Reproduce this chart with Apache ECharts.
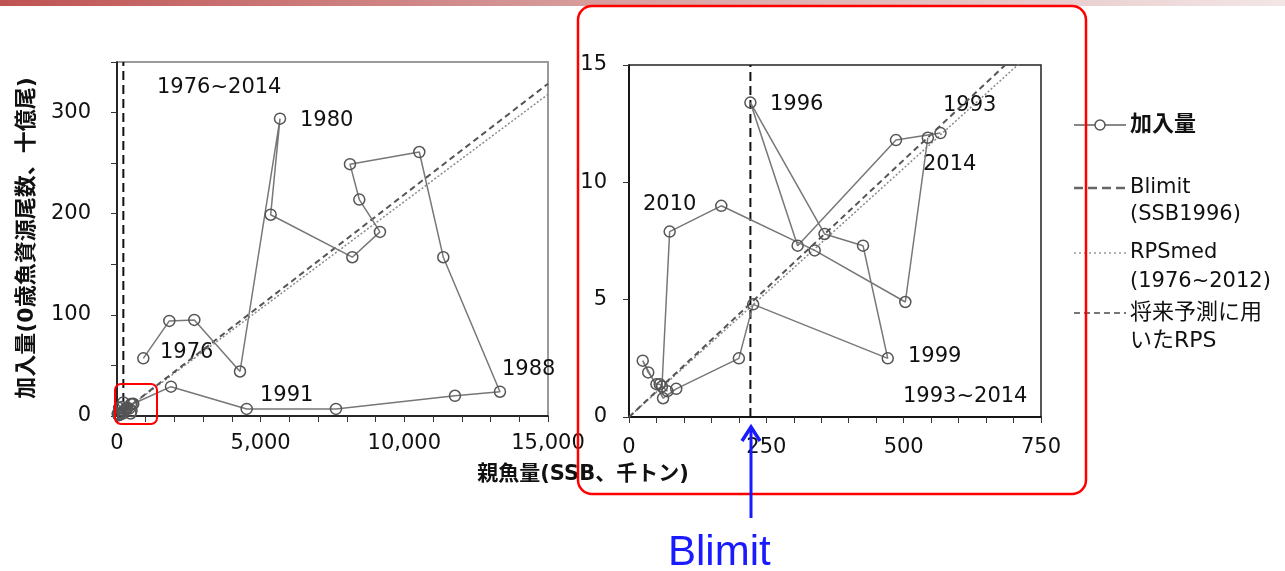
<!DOCTYPE html>
<html>
<head>
<meta charset="utf-8">
<script src="https://cdn.jsdelivr.net/npm/echarts@6/dist/echarts.min.js"></script>
<style>
html,body{margin:0;padding:0;background:#fff}
#main{width:1285px;height:571px}
</style>
</head>
<body>
<div id="main"></div>
<script>
// 年ごとの親魚量(SSB, 千トン)と加入量(十億尾)
const years = [1976,1977,1978,1979,1980,1981,1982,1983,1984,1985,1986,1987,1988,1989,1990,1991,1992,
  1993,1994,1995,1996,1997,1998,1999,2000,2001,2002,2003,2004,2005,2006,2007,2008,2009,2010,2011,2012,2013,2014]
const ssb = [916,1821,2691,4281,5673,5348,8190,9152,8433,8108,10521,11356,13328,11762,7621,4513,1879,
  567,486,307,221,356,426,471,226,200,86,62,25,35,50,56,70,60,74,168,338,503,544]
const recruits = [57,94,95,44,294,199,157,182,214,249,261,157,24,20,7,7,29,
  12.1,11.8,7.3,13.4,7.8,7.3,2.5,4.8,2.5,1.2,0.8,2.4,1.9,1.4,1.4,1.1,1.3,7.9,9.0,7.1,4.9,11.9]

const blimit = 221          // SSB1996
const rpsMed = 0.0212       // RPSmed(1976~2012)
const rpsFuture = 0.0219    // 将来予測に用いたRPS

// 軸の範囲と目盛り
const leftXMax = 15000, leftYMax = 350
const rightXMax = 750, rightYMax = 15
const leftXLabels = [0,5000,10000,15000]
const leftYLabels = [0,100,200,300]
const rightXLabels = [0,250,500,750]
const rightYLabels = [0,5,10,15]

const zoomStart = years.indexOf(1993)

const LAT = '"DejaVu Sans", "Noto Sans CJK JP", sans-serif'

const allPts = ssb.map((s, i) => [s, recruits[i]])
const zoomPts = allPts.slice(zoomStart)

const fmtComma = v => String(v).replace(/\B(?=(\d{3})+(?!\d))/g, ',')

const makeX = (idx, max, step, labels, margin, fmt) => ({
  type: 'value', gridIndex: idx, min: 0, max: max, interval: step,
  axisLine: { show: true, onZero: false, lineStyle: { color: '#000', width: 1.5 } },
  axisTick: { show: true, length: 6, lineStyle: { color: '#333' } },
  splitLine: { show: false },
  axisLabel: {
    margin: margin, color: '#111', fontSize: 21, fontFamily: LAT,
    showMinLabel: true, showMaxLabel: true,
    formatter: v => labels.indexOf(v) >= 0 ? fmt(v) : ''
  }
})
const makeY = (idx, max, step, labels, margin) => ({
  type: 'value', gridIndex: idx, min: 0, max: max, interval: step,
  axisLine: { show: true, onZero: false, lineStyle: { color: '#000', width: 1.5 } },
  axisTick: { show: true, length: 6, lineStyle: { color: '#333' } },
  splitLine: { show: false },
  axisLabel: {
    margin: margin, color: '#111', fontSize: 21, fontFamily: LAT,
    formatter: v => labels.indexOf(v) >= 0 ? String(v) : ''
  }
})

const refLines = (idx, xMax, yMax) => [
  {
    type: 'line', xAxisIndex: idx, yAxisIndex: idx, symbol: 'none', silent: true,
    data: [[0, 0], [xMax, xMax * rpsMed]],
    lineStyle: { color: '#8a8a8a', width: 1.5, type: [2, 2] }, z: 2
  },
  {
    type: 'line', xAxisIndex: idx, yAxisIndex: idx, symbol: 'none', silent: true,
    data: [[0, 0], [xMax, xMax * rpsFuture]],
    lineStyle: { color: '#555', width: 2, type: [6, 4] }, z: 2
  },
  {
    type: 'line', xAxisIndex: idx, yAxisIndex: idx, symbol: 'none', silent: true,
    data: [[blimit, 0], [blimit, yMax]],
    lineStyle: { color: '#111', width: 2, type: [9, 5] }, z: 3
  }
]

const recSeries = (idx, pts) => ({
  type: 'line', xAxisIndex: idx, yAxisIndex: idx, data: pts,
  symbol: 'circle', symbolSize: 11,
  itemStyle: { color: 'rgba(255,255,255,0)', borderColor: '#555', borderWidth: 1.5 },
  lineStyle: { color: '#777', width: 1.5 }, z: 4
})

// 注記テキスト
const notes = [
  ['1976~2014', 157, 88], ['1980', 300, 121], ['1976', 160, 353], ['1991', 260, 396], ['1988', 502, 370],
  ['1996', 770, 105], ['1993', 943, 106], ['2014', 923, 165], ['2010', 643, 205], ['1999', 908, 357],
  ['1993~2014', 903, 397]
]
const txt = (text, x, y, size, extra) => Object.assign({
  type: 'text', x: x, y: y, silent: true,
  style: Object.assign({ text: text, fill: '#111', fontSize: size, fontFamily: LAT, align: 'left', verticalAlign: 'middle' }, extra || {})
})

const graphics = []
// 上端の帯
graphics.push({
  type: 'rect', shape: { x: 0, y: 0, width: 1285, height: 6 }, silent: true,
  style: { fill: new echarts.graphic.LinearGradient(0, 0, 1, 0, [
    { offset: 0, color: '#bf5353' }, { offset: 0.5, color: '#d9a3a3' }, { offset: 1, color: '#f3e6e6' }]) }
})
notes.forEach(n => graphics.push(txt(n[0], n[1], n[2], 21)))

// 軸タイトル
graphics.push(txt('親魚量(SSB、千トン)', 583, 475, 21, { align: 'center', fontWeight: 'bold' }))
graphics.push(Object.assign(txt('加入量(0歳魚資源尾数、十億尾)', 0, 0, 22, { align: 'center', fontWeight: 'bold' }),
  { x: 27, y: 238, rotation: Math.PI / 2 }))

// 凡例
const legendLine = (y, color, width, dash) => ({
  type: 'line', silent: true, shape: { x1: 1074, y1: y, x2: 1126, y2: y },
  style: { stroke: color, lineWidth: width, lineDash: dash }
})
graphics.push(legendLine(125, '#888', 2, null))
graphics.push({ type: 'circle', silent: true, shape: { cx: 1100, cy: 125, r: 5 },
  style: { fill: '#fff', stroke: '#555', lineWidth: 1.5 } })
graphics.push(txt('加入量', 1130, 125, 22, { fontWeight: 'bold' }))
graphics.push(legendLine(188, '#666', 2.5, [9, 5]))
graphics.push(txt('Blimit', 1130, 188, 21))
graphics.push(txt('(SSB1996)', 1130, 215, 21))
graphics.push(legendLine(253, '#999', 1.5, [2, 3]))
graphics.push(txt('RPSmed', 1130, 253, 21))
graphics.push(txt('(1976~2012)', 1130, 282, 21))
graphics.push(legendLine(313, '#777', 2, [6, 4]))
graphics.push(txt('将来予測に用', 1130, 313, 22))
graphics.push(txt('いたRPS', 1130, 341, 22))

// 赤枠
graphics.push({ type: 'rect', silent: true, shape: { x: 578, y: 6, width: 508, height: 488, r: 14 },
  style: { fill: 'none', stroke: '#ff0000', lineWidth: 2.5 }, z: 100 })
graphics.push({ type: 'rect', silent: true, shape: { x: 115, y: 384, width: 42, height: 40, r: 6 },
  style: { fill: 'none', stroke: '#ff0000', lineWidth: 2 }, z: 100 })

// Blimit 矢印
graphics.push({ type: 'polyline', silent: true, shape: { points: [[751, 518], [751, 428]] },
  style: { stroke: '#1a1aff', lineWidth: 3, fill: 'none' }, z: 100 })
graphics.push({ type: 'polyline', silent: true, shape: { points: [[742, 441], [751, 427], [760, 441]] },
  style: { stroke: '#1a1aff', lineWidth: 3.5, fill: 'none' }, z: 100 })
graphics.push(txt('Blimit', 668, 553, 42, { fill: '#1a1aff', fontFamily: '"Liberation Sans", Arial, sans-serif' }))

const chart = echarts.init(document.getElementById('main'))
chart.setOption({
  animation: false,
  backgroundColor: '#fff',
  grid: [
    { left: 117, top: 62, width: 431, height: 354, show: true, borderColor: '#9a9a9a', borderWidth: 2, backgroundColor: 'transparent' },
    { left: 629, top: 65, width: 412, height: 352, show: true, borderColor: '#222', borderWidth: 1.5, backgroundColor: 'transparent' }
  ],
  xAxis: [
    makeX(0, leftXMax, 1000, leftXLabels, 17, fmtComma),
    makeX(1, rightXMax, 50, rightXLabels, 20, v => String(v))
  ],
  yAxis: [
    makeY(0, leftYMax, 50, leftYLabels, 26),
    makeY(1, rightYMax, 5, rightYLabels, 22)
  ],
  series: [
    ...refLines(0, leftXMax, leftYMax),
    recSeries(0, allPts),
    ...refLines(1, rightXMax, rightYMax),
    recSeries(1, zoomPts)
  ],
  graphic: graphics
})
</script>
</body>
</html>
